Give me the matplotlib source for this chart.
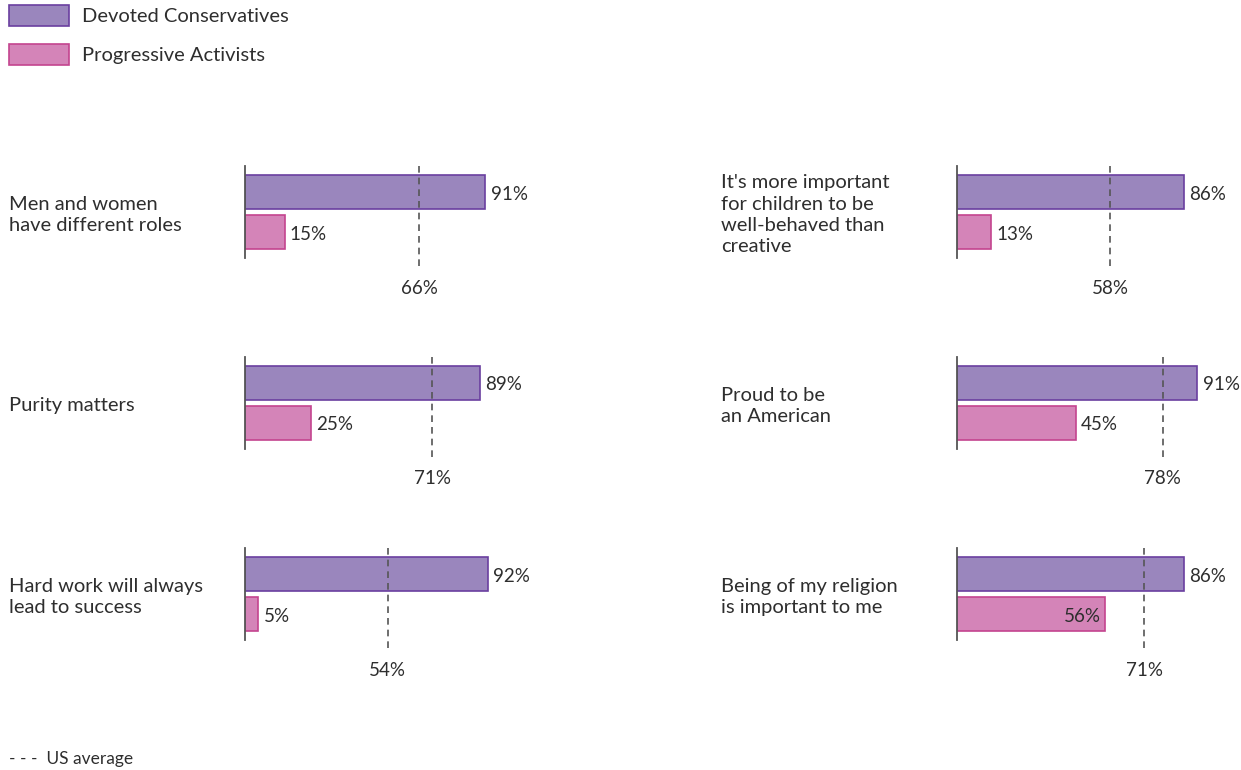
import matplotlib
matplotlib.use("Agg")
import matplotlib.pyplot as plt
from matplotlib.patches import Rectangle

plt.rcParams['font.family'] = ['Lato', 'DejaVu Sans']

# data
left_labels = ["Men and women\nhave different roles", "Purity matters",
               "Hard work will always\nlead to success"]
left_conservatives = [91, 89, 92]
left_progressives = [15, 25, 5]
left_us_avg = [66, 71, 54]

right_labels = ["It's more important\nfor children to be\nwell-behaved than\ncreative",
                "Proud to be\nan American",
                "Being of my religion\nis important to me"]
right_conservatives = [86, 91, 86]
right_progressives = [13, 45, 56]
right_us_avg = [58, 78, 71]

series_names = ["Devoted Conservatives", "Progressive Activists"]

PURPLE, PURPLE_EDGE = "#9a86bd", "#6a3fa0"
PINK, PINK_EDGE = "#d484b8", "#c4448f"
TEXT = "#2e2e2e"
GREY = "#555555"
LABEL_FS = 14.5
NUM_FS = 13.5

W, H = 1241, 770
fig = plt.figure(figsize=(W / 100, H / 100), dpi=100)


def px_axes(x, y, w, h):
    return fig.add_axes([x / W, 1 - (y + h) / H, w / W, h / H])


def panel(ax, label, cons, prog, avg, label_x):
    ax.barh([0], [cons], height=0.85, color=PURPLE, edgecolor=PURPLE_EDGE, linewidth=1.2, zorder=2)
    ax.barh([1], [prog], height=0.85, color=PINK, edgecolor=PINK_EDGE, linewidth=1.2, zorder=2)
    ax.set_xlim(0, 100)
    ax.set_ylim(1.65, -0.65)
    for s in ["top", "right", "bottom"]:
        ax.spines[s].set_visible(False)
    ax.spines["left"].set_color(GREY)
    ax.spines["left"].set_linewidth(1.3)
    ax.spines["left"].set_zorder(3)
    ax.set_xticks([])
    ax.set_yticks([])
    ax.patch.set_alpha(0)

    # us average line
    ax.plot([avg, avg], [-0.65, 1.92], ls=(0, (4, 3)), color=GREY, lw=1.2,
            clip_on=False, zorder=3)
    ax.text(avg, 2.4, f"{avg}%", ha="center", va="center", fontsize=NUM_FS, color=TEXT)

    ax.text(cons + 2, 0.05, f"{cons}%", ha="left", va="center", fontsize=NUM_FS, color=TEXT)
    if abs(avg - prog) < 16 and prog < avg:
        ax.text(prog - 1.5, 1.05, f"{prog}%", ha="right", va="center", fontsize=NUM_FS,
                color=TEXT, zorder=4)
    else:
        ax.text(prog + 2, 1.05, f"{prog}%", ha="left", va="center", fontsize=NUM_FS, color=TEXT)

    ax.text(label_x, 0.47, label, transform=ax.transAxes,
            ha="left", va="center", fontsize=LABEL_FS, color=TEXT, linespacing=1.3)


tops = [166, 357, 548]
for i in range(3):
    ax = px_axes(245, tops[i], 264, 92)
    panel(ax, left_labels[i], left_conservatives[i], left_progressives[i], left_us_avg[i],
          (9 - 245) / 264)
    ax = px_axes(957, tops[i], 264, 92)
    panel(ax, right_labels[i], right_conservatives[i], right_progressives[i], right_us_avg[i],
          (721 - 957) / 264)

# legend
for j, (fc, ec) in enumerate([(PURPLE, PURPLE_EDGE), (PINK, PINK_EDGE)]):
    y0 = 5 + j * 39
    fig.patches.append(Rectangle((9 / W, 1 - (y0 + 21) / H), 60 / W, 21 / H,
                                 transform=fig.transFigure, facecolor=fc,
                                 edgecolor=ec, linewidth=1.2))
    fig.text(82 / W, 1 - (y0 + 11.5) / H, series_names[j], ha="left", va="center",
             fontsize=LABEL_FS, color=TEXT)

fig.text(9 / W, 1 - 759 / H, "- - -  US average", ha="left", va="center",
         fontsize=12.5, color=TEXT)

fig.savefig("out.png", dpi=100, facecolor="white")
